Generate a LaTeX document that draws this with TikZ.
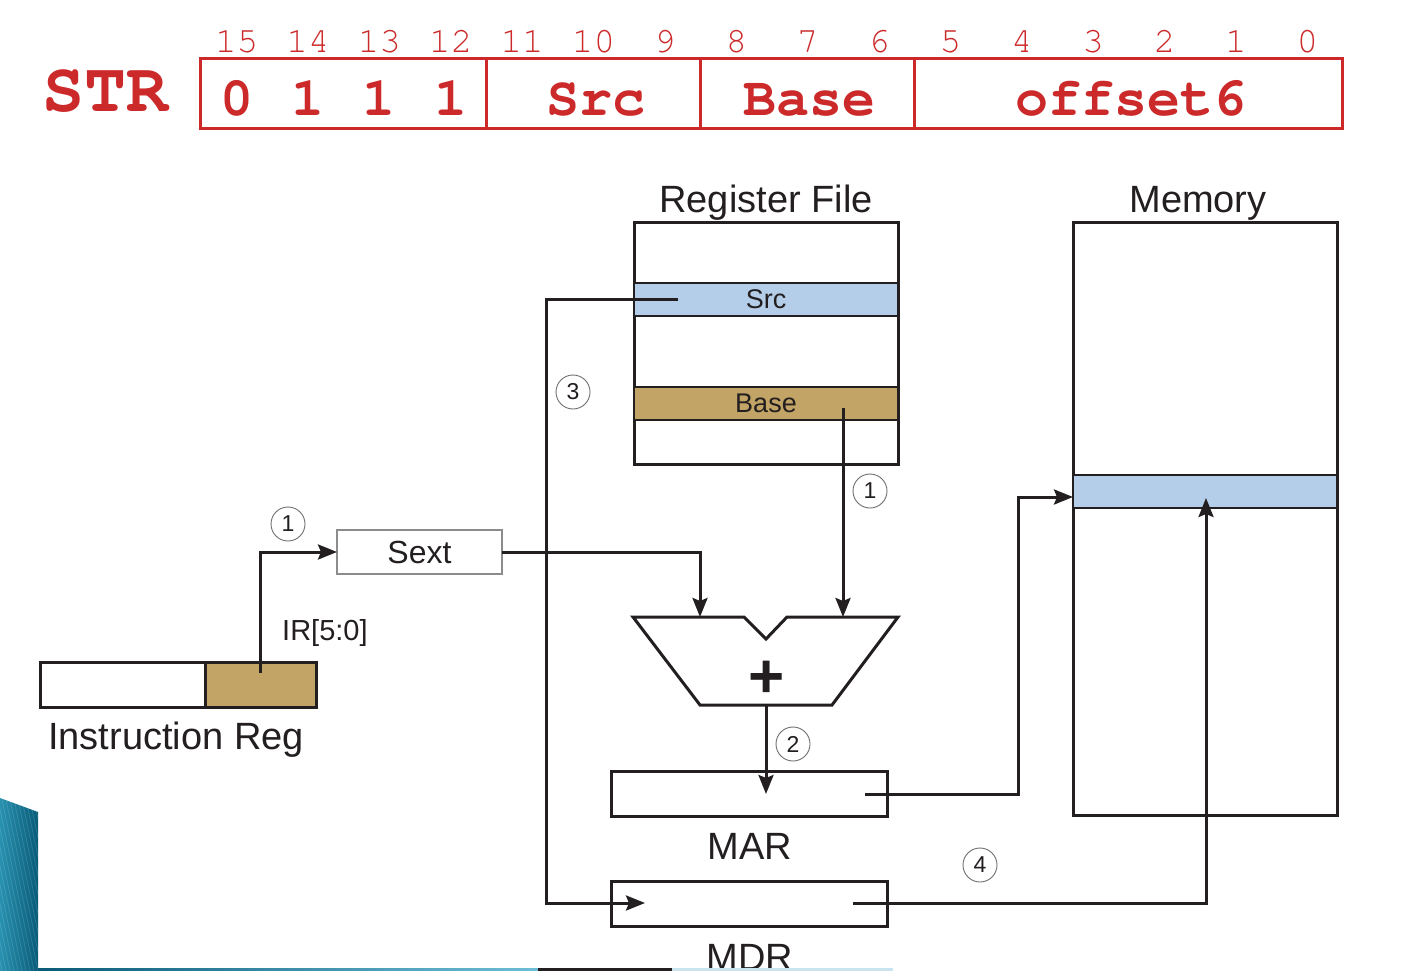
\documentclass[tikz,border=0pt]{standalone}
\usepackage{fontspec}
\setmainfont{Liberation Sans}
\newfontfamily\monof{texgyrecursor-regular.otf}[BoldFont=texgyrecursor-bold.otf,Ligatures={NoCommon,NoRequired}]
\usetikzlibrary{arrows.meta}
\definecolor{strred}{RGB}{204,42,42}
\definecolor{ink}{RGB}{35,31,32}
\definecolor{regblue}{RGB}{180,206,233}
\definecolor{regtan}{RGB}{194,164,102}
\definecolor{tealA}{RGB}{40,145,175}
\definecolor{tealB}{RGB}{8,92,122}
\definecolor{tealC}{RGB}{110,190,215}
\definecolor{paleblue}{RGB}{200,228,238}
\definecolor{numgray}{RGB}{110,110,110}
\definecolor{sextgray}{RGB}{140,140,140}
\begin{document}
\begin{tikzpicture}[x=1pt,y=-1pt,
  box/.style={draw=ink,line width=3pt,inner sep=0pt,outer sep=0pt},
  rowbox/.style={draw=ink,line width=2pt,inner sep=0pt,outer sep=0pt,minimum width=264pt,minimum height=33pt,font=\fontsize{27}{27}\selectfont,text=ink},
  conn/.style={draw=ink,line width=3pt},
  arr/.style={conn,-{Stealth[length=19pt,width=15pt,inset=3pt]}},
  numc/.style={circle,draw=numgray,line width=0.9pt,minimum size=34pt,inner sep=0pt,font=\fontsize{23}{23}\selectfont,text=ink},
  lbl/.style={inner sep=0pt,anchor=base,font=\fontsize{38}{40}\selectfont,text=ink},
  bitnum/.style={inner sep=0pt,anchor=base,text=strred,font=\monof\fontsize{36}{36}\selectfont},
  bitval/.style={inner sep=0pt,anchor=base,text=strred,font=\monof\bfseries\fontsize{55}{55}\selectfont}
]
\useasboundingbox (0,0) rectangle (1403,971);
\clip (0,0) rectangle (1403,971);
\fill[white] (0,0) rectangle (1403,971);

% ---------- instruction format ----------
\node[inner sep=0pt,anchor=base,text=strred,font=\monof\bfseries\fontsize{70}{70}\selectfont] (str) at (105.5,112) {STR};
\node[draw=strred,line width=3pt,minimum width=1142pt,minimum height=70pt,inner sep=0pt,outer sep=0pt] (instr) at (771,94) {};
\draw[strred,line width=3pt] (486,59) -- (486,129);
\draw[strred,line width=3pt] (700,59) -- (700,129);
\draw[strred,line width=3pt] (914,59) -- (914,129);
\foreach \i in {0,...,15}
  \node[bitnum] (b\i) at ({201+(15.5-\i)*71.375},53) {\i};
\foreach \v [count=\k from 0] in {0,1,1,1}
  \node[bitval] (v\k) at ({201+(\k+0.5)*71.375},116) {\v};
\node[bitval] (fsrc) at (596,116) {Src};
\node[bitval] (fbase) at (809,116) {Base};
\node[bitval] (foff) at (1131,116) {offset6};

% ---------- register file ----------
\node[lbl] (rflbl) at (766,212) {Register File};
\node[box,fill=white,minimum width=264pt,minimum height=242pt] (rf) at (766,343) {};
\node[rowbox,fill=regblue] (rsrc) at (766,299.5) {Src};
\node[rowbox,fill=regtan] (rbase) at (766,403.5) {Base};

% ---------- memory ----------
\node[lbl] (memlbl) at (1198,212) {Memory};
\node[box,fill=white,minimum width=264pt,minimum height=593pt] (mem) at (1205,518.5) {};
\node[rowbox,fill=regblue] (mrow) at (1205,491.5) {};

% ---------- ALU ----------
\draw[box,fill=white,line join=miter] (633,617) -- (744,617) -- (766,639) -- (787,617) -- (898,617) -- (832,705) -- (700,705) -- cycle;
\node[inner sep=0pt,font=\bfseries\fontsize{62}{62}\selectfont,text=ink] (plus) at (767,679) {+};

% ---------- MAR / MDR ----------
\node[box,fill=white,minimum width=276pt,minimum height=45pt] (mar) at (749,793.5) {};
\node[lbl] (marlbl) at (750,859) {MAR};
\node[box,fill=white,minimum width=276pt,minimum height=45pt] (mdr) at (749,903.5) {};
\node[lbl] (mdrlbl) at (750,970) {MDR};

% ---------- Sext and IR ----------
\node[draw=sextgray,line width=1.2pt,fill=white,minimum width=165pt,minimum height=44pt,inner sep=0pt,outer sep=0pt,font=\fontsize{32}{32}\selectfont,text=ink] (sext) at (419.5,552) {Sext};
\node[box,fill=white,minimum width=276pt,minimum height=45pt] (ir) at (178,684.5) {};
\node[box,fill=regtan,minimum width=111pt,minimum height=45pt] (irf) at (260.5,684.5) {};
\node[lbl] (irlbl) at (176,749) {Instruction Reg};
\node[inner sep=0pt,anchor=base west,font=\fontsize{29}{29}\selectfont,text=ink] (irbits) at (282,640) {IR[5:0]};

% ---------- connectors ----------
\coordinate (irtap) at (260,673);
\draw[arr] (irtap) |- (sext.west);
\coordinate (alul) at (700,617);
\coordinate (alur) at (843,617);
\draw[arr] (sext.east) -| (alul);
\coordinate (basetap) at (843,408);
\draw[arr] (basetap) -- (alur);
\coordinate (aluout) at (766,705);
\coordinate (marin) at (766,794);
\draw[arr] (aluout) -- (marin);
\coordinate (martap) at (865,794);
\coordinate (mbend) at (1018,497);
\draw[arr] (martap) -| (mbend) -- (mem.west |- mbend);
\coordinate (mdrtap) at (853,903);
\coordinate (memin) at (1206,498);
\draw[arr] (mdrtap) -| (memin);
\coordinate (srctap) at (678,299);
\coordinate (sbend) at (546,299);
\coordinate (mdrin) at (645,903);
\draw[arr] (srctap) -- (sbend) |- (mdrin);

% ---------- step numbers ----------
\node[numc] (s1a) at (288,524) {1};
\node[numc] (s1b) at (870,491) {1};
\node[numc] (s2) at (793,744) {2};
\node[numc] (s3) at (573,392) {3};
\node[numc] (s4) at (980,865) {4};

% ---------- slide decoration ----------
\shade[left color=tealA,right color=tealB] (0,798) -- (38,812) -- (38,971) -- (0,971) -- cycle;
\begin{scope}
  \clip (0,798) -- (38,812) -- (38,971) -- (0,971) -- cycle;
  \foreach \o in {-44,-40,...,40}
    \draw[white,opacity=0.13,line width=0.8pt] (\o,790) -- (\o+40,980);
\end{scope}
\shade[left color=tealB,right color=tealC] (38,968) rectangle (538,971);
\fill[ink] (538,968) rectangle (672,971);
\fill[paleblue] (672,968) rectangle (893,971);
\end{tikzpicture}
\end{document}
